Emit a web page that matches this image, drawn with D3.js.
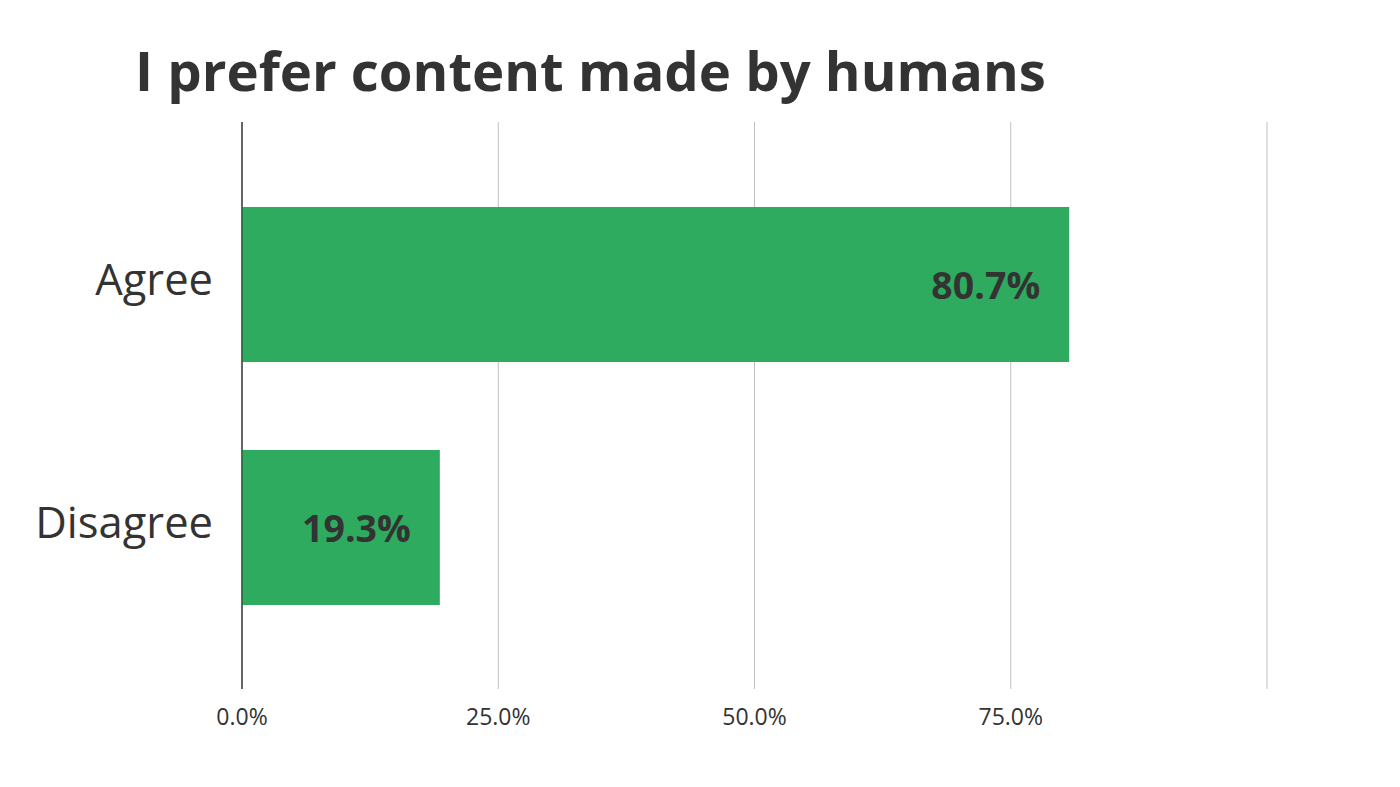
<!DOCTYPE html>
<html>
<head>
<meta charset="utf-8">
<script src="https://cdn.jsdelivr.net/npm/d3@7"></script>
<style>
  body { margin: 0; background: #fff; }
  svg text { font-family: "Open Sans", sans-serif; fill: #333; }
</style>
</head>
<body>
<svg id="chart" width="1400" height="787"></svg>
<script>
// data
const categories = ["Agree", "Disagree"];
const values = [80.7, 19.3];
const gridValues = [0, 25, 50, 75, 100];
const tickValues = [0, 25, 50, 75];
const titleText = "I prefer content made by humans";

const svg = d3.select("#chart");
const plotLeft = 242, plotRight = 1267, plotTop = 122, plotBottom = 689;

const x = d3.scaleLinear().domain([0, 100]).range([plotLeft, plotRight]);
const y = d3.scaleBand()
	.domain(categories)
	.range([163, 649])
	.paddingInner(0.362)
	.paddingOuter(0.181);

svg.append("text")
	.attr("x", 135)
	.attr("y", 91)
	.attr("font-size", 54.5)
	.attr("font-weight", 700)
	.text(titleText);

// gridlines
svg.append("g")
	.selectAll("line")
	.data(gridValues)
	.join("line")
	.attr("x1", d => x(d))
	.attr("x2", d => x(d))
	.attr("y1", plotTop)
	.attr("y2", plotBottom)
	.attr("stroke", d => d == 0 ? "#333" : "#c0c0c0")
	.attr("stroke-width", 1);

// bars
svg.append("g")
	.selectAll("rect")
	.data(values)
	.join("rect")
	.attr("x", x(0))
	.attr("y", (d, i) => y(categories[i]))
	.attr("width", d => x(d) - x(0))
	.attr("height", y.bandwidth())
	.attr("fill", "#2eab5f");

// zero axis line on top of bars
svg.append("line")
	.attr("x1", x(0)).attr("x2", x(0))
	.attr("y1", plotTop).attr("y2", plotBottom)
	.attr("stroke", "#333");

// value labels
svg.append("g")
	.selectAll("text")
	.data(values)
	.join("text")
	.attr("x", d => x(d) - 29)
	.attr("y", (d, i) => y(categories[i]) + y.bandwidth() / 2)
	.attr("dy", "0.38em")
	.attr("text-anchor", "end")
	.attr("font-size", 37.5)
	.attr("font-weight", 700)
	.text(d => d.toFixed(1) + "%");

// category labels
svg.append("g")
	.selectAll("text")
	.data(categories)
	.join("text")
	.attr("x", 213)
	.attr("y", d => y(d) + y.bandwidth() / 2)
	.attr("dy", "0.25em")
	.attr("text-anchor", "end")
	.attr("font-size", 43.5)
	.text(d => d);

// x tick labels
svg.append("g")
	.selectAll("text")
	.data(tickValues)
	.join("text")
	.attr("x", d => x(d))
	.attr("y", 725)
	.attr("text-anchor", "middle")
	.attr("font-size", 23)
	.text(d => d.toFixed(1) + "%");
</script>
</body>
</html>
